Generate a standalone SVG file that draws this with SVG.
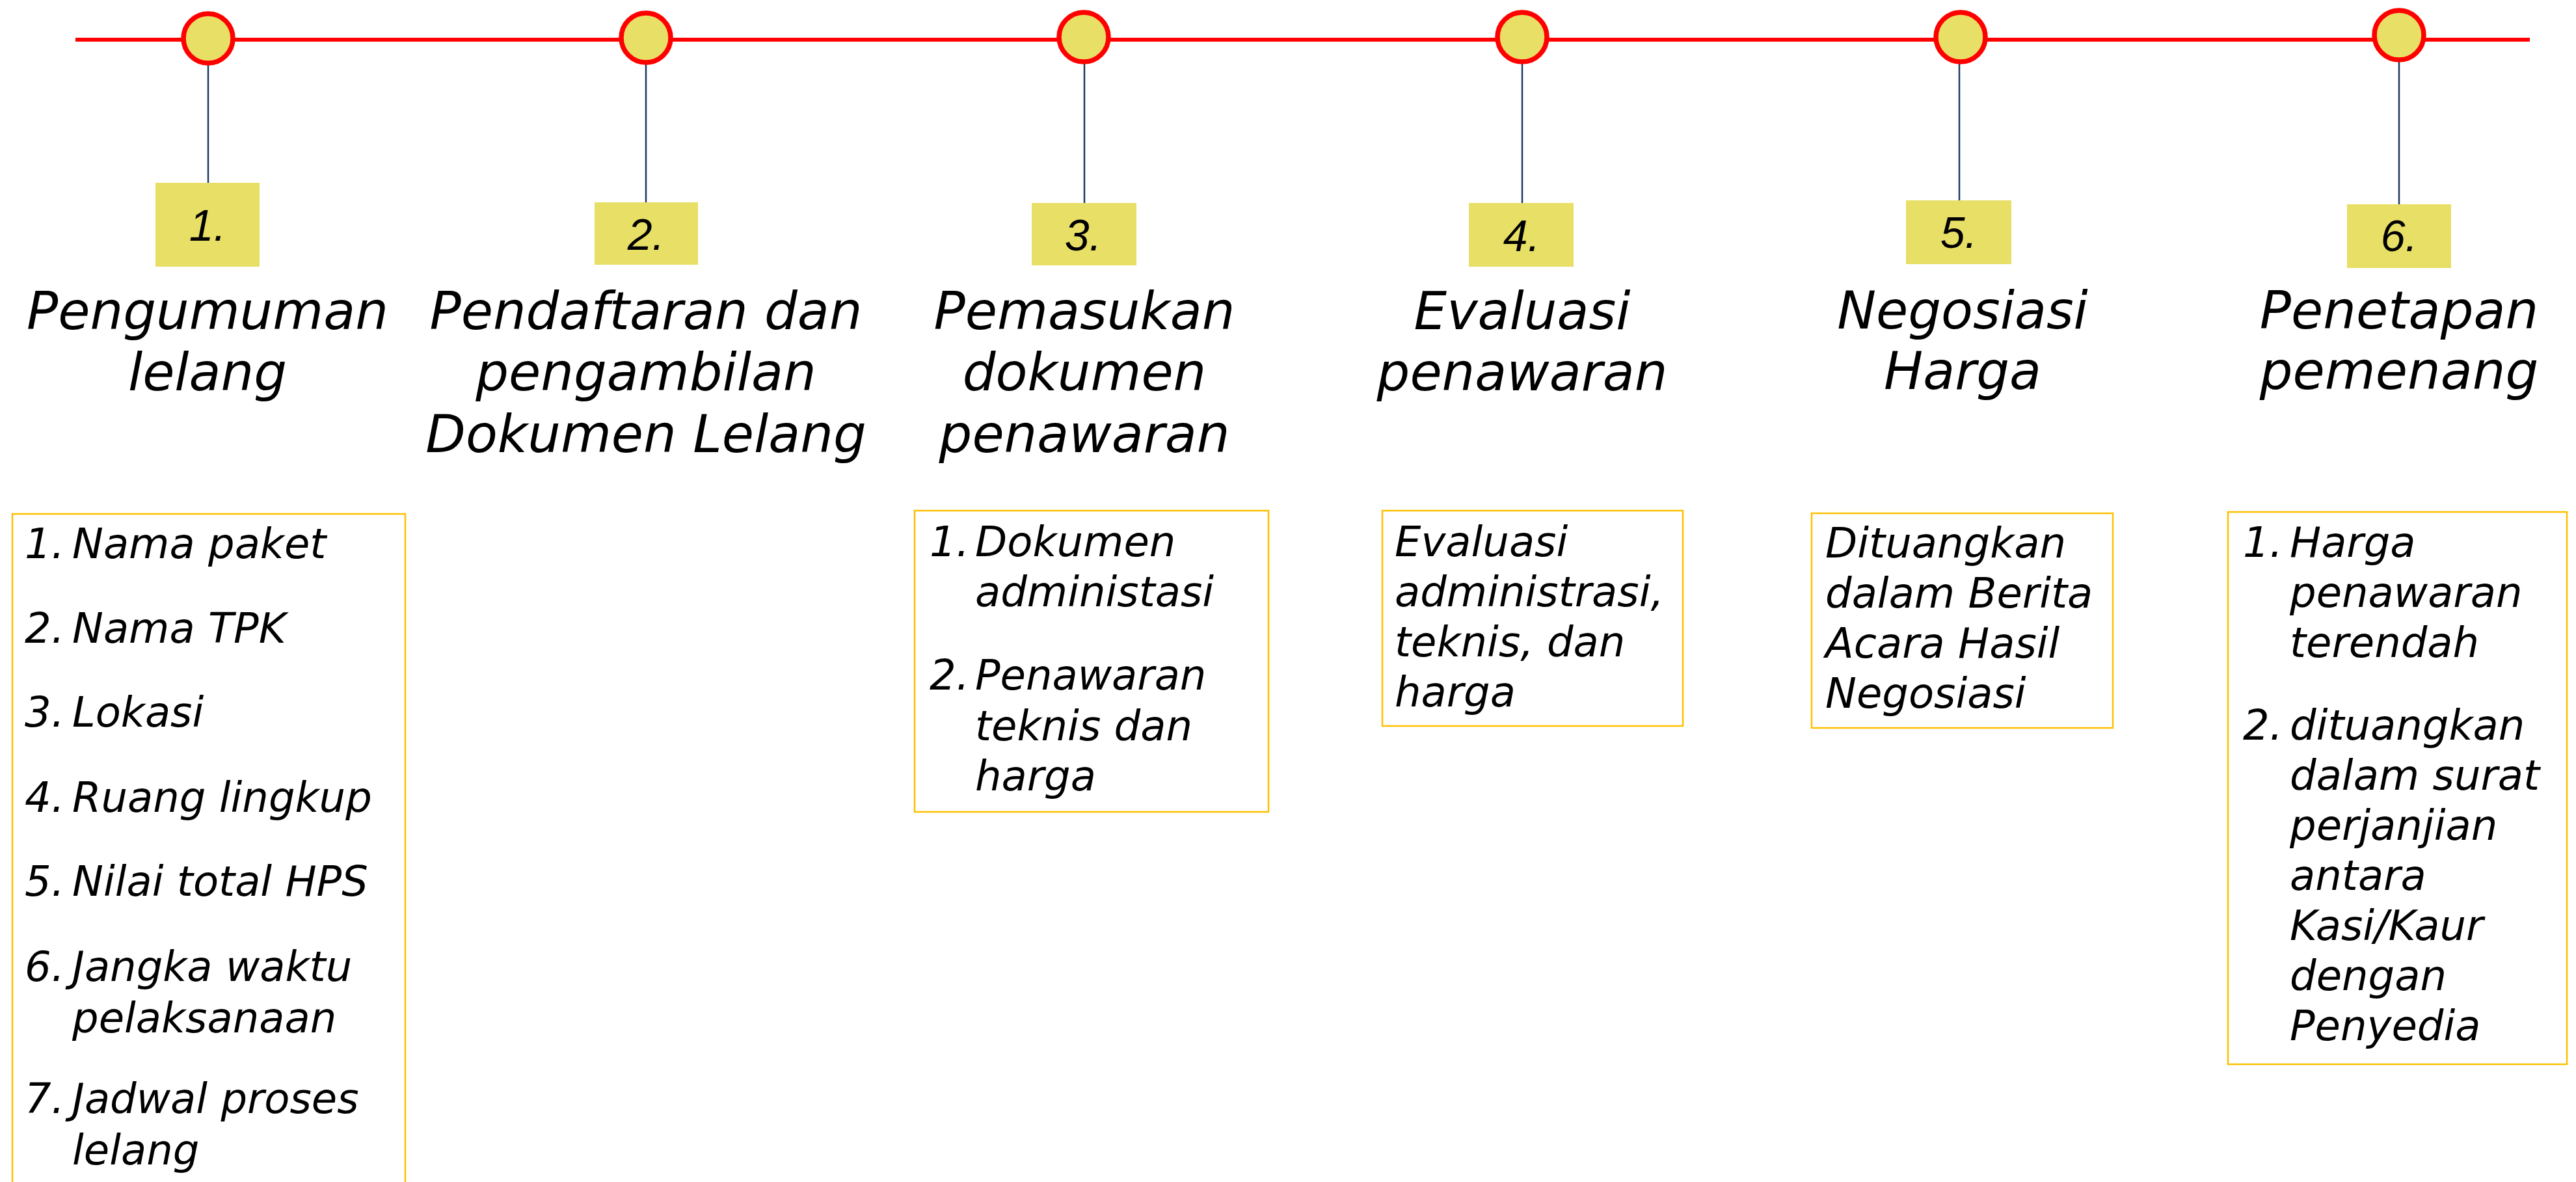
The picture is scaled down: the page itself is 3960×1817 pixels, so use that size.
<svg xmlns="http://www.w3.org/2000/svg" width="3960" height="1817" viewBox="0 0 3960 1817">
<style>
.bg{fill:#ffffff}
.axis{stroke:#FF0000;stroke-width:6;fill:none}
.dot{fill:#E8DF66;stroke:#FF0000;stroke-width:7.5}
.conn{stroke:#1F3864;stroke-width:2.5;fill:none}
.lbl{fill:#E8DF66}
.num{font-family:"Liberation Sans",Arial,sans-serif;font-style:italic;font-size:68px;fill:#000;text-anchor:middle}
.head{font-family:"DejaVu Sans","Noto Sans",sans-serif;font-style:italic;font-size:80px;fill:#000;text-anchor:middle}
.box{fill:#ffffff;stroke:#FFC000;stroke-width:2.5}
.item{font-family:"DejaVu Sans","Noto Sans",sans-serif;font-style:italic;font-size:64px;fill:#000}
</style>
<rect class="bg" x="0" y="0" width="3960" height="1817"/>
<line class="axis" x1="116" y1="61" x2="3889" y2="61"/>
<g id="connectors">
<line class="conn" x1="320" y1="100" x2="320" y2="281"/>
<line class="conn" x1="993" y1="97" x2="993" y2="311"/>
<line class="conn" x1="1667" y1="96" x2="1667" y2="312"/>
<line class="conn" x1="2340" y1="96" x2="2340" y2="312"/>
<line class="conn" x1="3012" y1="96" x2="3012" y2="308"/>
<line class="conn" x1="3688" y1="93" x2="3688" y2="314"/>
</g>
<g id="step1">
<circle class="dot" cx="320" cy="59" r="38"/>
<rect class="lbl" x="239" y="281" width="160" height="129"/>
<text class="num" x="319" y="370">1.</text>
<text class="head" x="319" y="506">Pengumuman</text>
<text class="head" x="319" y="600">lelang</text>
<rect class="box" x="19" y="790" width="604" height="1045"/>
<text class="item" y="858"><tspan x="38">1.</tspan><tspan x="111">Nama paket</tspan></text>
<text class="item" y="988"><tspan x="38">2.</tspan><tspan x="111">Nama TPK</tspan></text>
<text class="item" y="1117"><tspan x="38">3.</tspan><tspan x="111">Lokasi</tspan></text>
<text class="item" y="1248"><tspan x="38">4.</tspan><tspan x="111">Ruang lingkup</tspan></text>
<text class="item" y="1377"><tspan x="38">5.</tspan><tspan x="111">Nilai total HPS</tspan></text>
<text class="item" y="1508"><tspan x="38">6.</tspan><tspan x="111">Jangka waktu</tspan></text>
<text class="item" x="111" y="1587">pelaksanaan</text>
<text class="item" y="1711"><tspan x="38">7.</tspan><tspan x="111">Jadwal proses</tspan></text>
<text class="item" x="111" y="1790">lelang</text>
</g>
<g id="step2">
<circle class="dot" cx="993" cy="58" r="38"/>
<rect class="lbl" x="914" y="311" width="159" height="96"/>
<text class="num" x="993" y="384">2.</text>
<text class="head" x="993" y="506">Pendaftaran dan</text>
<text class="head" x="993" y="600">pengambilan</text>
<text class="head" x="993" y="695">Dokumen Lelang</text>
</g>
<g id="step3">
<circle class="dot" cx="1666" cy="57" r="38"/>
<rect class="lbl" x="1586" y="312" width="161" height="96"/>
<text class="num" x="1665" y="385">3.</text>
<text class="head" x="1667" y="506">Pemasukan</text>
<text class="head" x="1667" y="600">dokumen</text>
<text class="head" x="1667" y="695">penawaran</text>
<rect class="box" x="1406" y="785" width="544" height="463"/>
<text class="item" y="855"><tspan x="1429">1.</tspan><tspan x="1499">Dokumen</tspan></text>
<text class="item" x="1499" y="932">administasi</text>
<text class="item" y="1060"><tspan x="1429">2.</tspan><tspan x="1499">Penawaran</tspan></text>
<text class="item" x="1499" y="1138">teknis dan</text>
<text class="item" x="1499" y="1215">harga</text>
</g>
<g id="step4">
<circle class="dot" cx="2340" cy="57" r="38"/>
<rect class="lbl" x="2258" y="312" width="161" height="98"/>
<text class="num" x="2339" y="386">4.</text>
<text class="head" x="2340" y="506">Evaluasi</text>
<text class="head" x="2340" y="600">penawaran</text>
<rect class="box" x="2125" y="785" width="462" height="331"/>
<text class="item" x="2144" y="855">Evaluasi</text>
<text class="item" x="2144" y="932">administrasi,</text>
<text class="item" x="2144" y="1009">teknis, dan</text>
<text class="item" x="2144" y="1086">harga</text>
</g>
<g id="step5">
<circle class="dot" cx="3014" cy="57" r="38"/>
<rect class="lbl" x="2930" y="308" width="162" height="98"/>
<text class="num" x="3011" y="381">5.</text>
<text class="head" x="3017" y="505">Negosiasi</text>
<text class="head" x="3017" y="598">Harga</text>
<rect class="box" x="2785" y="789" width="463" height="330"/>
<text class="item" x="2806" y="857">Dituangkan</text>
<text class="item" x="2806" y="934">dalam Berita</text>
<text class="item" x="2806" y="1011">Acara Hasil</text>
<text class="item" x="2806" y="1088">Negosiasi</text>
</g>
<g id="step6">
<circle class="dot" cx="3688" cy="54" r="38"/>
<rect class="lbl" x="3608" y="314" width="160" height="98"/>
<text class="num" x="3688" y="386">6.</text>
<text class="head" x="3688" y="505">Penetapan</text>
<text class="head" x="3688" y="598">pemenang</text>
<rect class="box" x="3425" y="787" width="521" height="849"/>
<text class="item" y="856"><tspan x="3448">1.</tspan><tspan x="3520">Harga</tspan></text>
<text class="item" x="3520" y="933">penawaran</text>
<text class="item" x="3520" y="1010">terendah</text>
<text class="item" y="1137"><tspan x="3448">2.</tspan><tspan x="3520">dituangkan</tspan></text>
<text class="item" x="3520" y="1214">dalam surat</text>
<text class="item" x="3520" y="1291">perjanjian</text>
<text class="item" x="3520" y="1368">antara</text>
<text class="item" x="3520" y="1445">Kasi/Kaur</text>
<text class="item" x="3520" y="1522">dengan</text>
<text class="item" x="3520" y="1599">Penyedia</text>
</g>
</svg>
